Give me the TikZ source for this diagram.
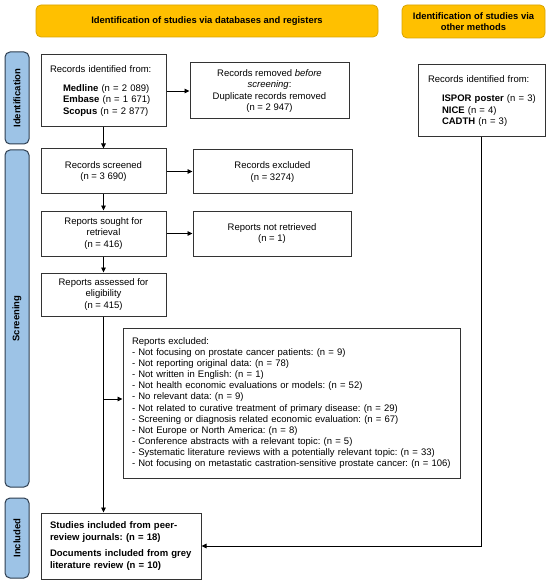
\documentclass[tikz,border=0pt]{standalone}
\usepackage{fontspec}
\setmainfont{Liberation Sans}
\usetikzlibrary{arrows.meta}
\definecolor{hdr}{HTML}{FFC000}
\definecolor{hdrline}{HTML}{D9A400}
\definecolor{bar}{HTML}{9DC3E6}
\definecolor{barline}{HTML}{2E3E50}
\definecolor{boxline}{HTML}{333333}
\frenchspacing
\tikzset{
  txt/.style={font=\fontsize{9.5}{11.3}\selectfont},
  box/.style={txt, draw=boxline, line width=1pt, fill=white, inner sep=0pt},
  cbox/.style={box, align=center},
  lbox/.style={box, align=left, text width=#1},
  header/.style={txt, font=\fontsize{9.4}{11.5}\selectfont\bfseries, draw=hdrline, line width=0.8pt, fill=hdr, rounded corners=5pt, align=center, inner sep=0pt},
  sidebar/.style={txt, font=\fontsize{9.5}{11.5}\selectfont\bfseries, draw=barline, line width=1pt, fill=bar, rounded corners=5pt, rotate=90, inner sep=0pt, minimum height=24pt},
  arr/.style={draw=black, line width=0.9pt, -{Triangle[length=5pt,width=4.5pt]}}
}
\begin{document}
\begin{tikzpicture}[x=1pt,y=-1pt]
\useasboundingbox[fill=white] (0,0) rectangle (550,585);

% headers
\node[header, minimum width=342pt, minimum height=32pt] (h1) at (207,21) {Identification of studies via databases and registers};
\node[header, minimum width=143pt, minimum height=33pt] (h2) at (473.5,21.5) {Identification of studies via\\other methods};

% side bars
\node[sidebar, minimum width=92pt] (sbid) at (17,98) {Identification};
\node[sidebar, minimum width=337pt] (sbsc) at (17,318.5) {Screening};
\node[sidebar, minimum width=80pt] (sbin) at (17,538) {Included};

% left column
\node[lbox=107pt, minimum width=125pt, minimum height=72pt] (rid) at (103.5,91)
  {Records identified from:\\[7.5pt]
   \hspace*{13pt}\textbf{Medline} (n = 2 089)\\
   \hspace*{13pt}\textbf{Embase} (n = 1 671)\\
   \hspace*{13pt}\textbf{Scopus} (n = 2 877)};
\node[cbox, minimum width=159pt, minimum height=56pt] (rem) at (269.5,91)
  {Records removed \textit{before}\\\textit{screening}:\\Duplicate records removed\\(n = 2 947)};

\node[cbox, minimum width=125pt, minimum height=45pt] (scr) at (103.5,171.5)
  {Records screened\\(n = 3 690)};
\node[cbox, minimum width=159pt, minimum height=44pt] (exc) at (272.5,172)
  {Records excluded\\(n = 3274)};

\node[cbox, minimum width=125pt, minimum height=45pt] (sou) at (103.5,233.5)
  {Reports sought for\\retrieval\\(n = 416)};
\node[cbox, minimum width=158pt, minimum height=45pt] (nrt) at (272,233.5)
  {Reports not retrieved\\(n = 1)};

\node[cbox, minimum width=125pt, minimum height=43pt] (asd) at (103.5,294.5)
  {Reports assessed for\\eligibility\\(n = 415)};

\node[lbox=319pt, minimum width=337pt, minimum height=150pt, font=\fontsize{9.5}{11.1}\selectfont] (rex) at (291.5,403)
  {Reports excluded:\\
   - Not focusing on prostate cancer patients: (n = 9)\\
   - Not reporting original data: (n = 78)\\
   - Not written in English: (n = 1)\\
   - Not health economic evaluations or models: (n = 52)\\
   - No relevant data: (n = 9)\\
   - Not related to curative treatment of primary disease: (n = 29)\\
   - Screening or diagnosis related economic evaluation: (n = 67)\\
   - Not Europe or North America: (n = 8)\\
   - Conference abstracts with a relevant topic: (n = 5)\\
   \mbox{- Systematic literature reviews with a potentially relevant topic: (n = 33)}\\
   \mbox{- Not focusing on metastatic castration-sensitive prostate cancer: (n = 106)}};

\node[lbox=142pt, minimum width=160pt, minimum height=66pt, font=\fontsize{9.5}{11.3}\selectfont\bfseries] (inc) at (121,546)
  {Studies included from peer-\\review journals: (n = 18)\\[5.5pt]
   Documents included from grey\\literature review (n = 10)};

% right column
\node[lbox=107pt, minimum width=127pt, minimum height=72pt] (oth) at (481.5,101)
  {Records identified from:\\[8pt]
   \mbox{\hspace*{14pt}\textbf{ISPOR poster} (n = 3)}\\
   \hspace*{14pt}\textbf{NICE} (n = 4)\\
   \hspace*{14pt}\textbf{CADTH} (n = 3)};

% connectors
\draw[arr] (rid.east) -- (rem.west);
\draw[arr] (rid.south) -- (scr.north);
\draw[arr] (scr.east) -- (scr.east -| exc.west);
\draw[arr] (scr.south) -- (sou.north);
\draw[arr] (sou.east) -- (nrt.west);
\draw[arr] (sou.south) -- (asd.north);
\draw[arr] (asd.south) -- (asd.south |- inc.north);
\coordinate (br) at ([yshift=4pt]asd.south |- rex.west);
\draw[arr] (br) -- (br -| rex.west);
\draw[arr] (oth.south) -- (oth.south |- inc.east) -- (inc.east);
\end{tikzpicture}
\end{document}
